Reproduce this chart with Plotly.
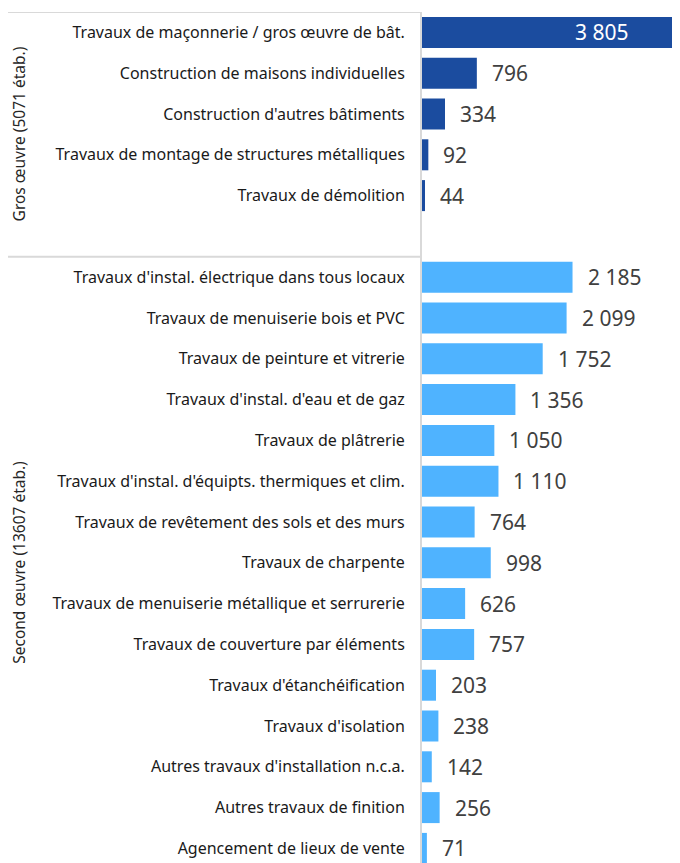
import plotly.graph_objects as go

gros_labels = [
    "Travaux de maçonnerie / gros œuvre de bât.",
    "Construction de maisons individuelles",
    "Construction d'autres bâtiments",
    "Travaux de montage de structures métalliques",
    "Travaux de démolition",
]
gros_values = [3805, 796, 334, 92, 44]

second_labels = [
    "Travaux d'instal. électrique dans tous locaux",
    "Travaux de menuiserie bois et PVC",
    "Travaux de peinture et vitrerie",
    "Travaux d'instal. d'eau et de gaz",
    "Travaux de plâtrerie",
    "Travaux d'instal. d'équipts. thermiques et clim.",
    "Travaux de revêtement des sols et des murs",
    "Travaux de charpente",
    "Travaux de menuiserie métallique et serrurerie",
    "Travaux de couverture par éléments",
    "Travaux d'étanchéification",
    "Travaux d'isolation",
    "Autres travaux d'installation n.c.a.",
    "Autres travaux de finition",
    "Agencement de lieux de vente",
]
second_values = [2185, 2099, 1752, 1356, 1050, 1110, 764, 998, 626, 757, 203, 238, 142, 256, 71]

group_titles = ["Gros œuvre (5071 étab.)", "Second œuvre (13607 étab.)"]

DARK = "#1B4C9F"
LIGHT = "#4FB3FF"
GRID = "#D9D9D9"
FONT = "Noto Sans"

gros_pos = list(range(len(gros_labels)))
gap = 1
second_start = len(gros_labels) + gap
second_pos = [second_start + i for i in range(len(second_labels))]

def fmt(v):
    return f"{v:,}".replace(",", " ")

fig = go.Figure()
fig.add_trace(go.Bar(y=gros_pos, x=gros_values, orientation="h",
                     marker=dict(color=DARK, line=dict(width=0)), width=0.76,
                     hoverinfo="skip", showlegend=False))
fig.add_trace(go.Bar(y=second_pos, x=second_values, orientation="h",
                     marker=dict(color=LIGHT, line=dict(width=0)), width=0.76,
                     hoverinfo="skip", showlegend=False))

XMAX = 3745
annotations = []
all_pos = gros_pos + second_pos
all_vals = gros_values + second_values
for p, v in zip(all_pos, all_vals):
    if v > XMAX:
        annotations.append(dict(x=1, xref="paper", y=p, yref="y", text=fmt(v),
                                showarrow=False, xanchor="right", xshift=-49,
                                font=dict(family=FONT, size=21, color="white")))
    else:
        annotations.append(dict(x=v, xref="x", y=p, yref="y", text=fmt(v),
                                showarrow=False, xanchor="left", xshift=13,
                                font=dict(family=FONT, size=21, color="#404040")))

W = 672
L = 414
PW = W - L
left_paper = (0 - L) / PW
label_x = (11 - L) / PW

top_b = -0.5
mid_b = second_start - 0.5
bot_b = second_pos[-1] + 0.5
for title, yc in zip(group_titles, [(top_b + mid_b) / 2, (mid_b + bot_b) / 2]):
    annotations.append(dict(x=label_x, xref="paper", y=yc, yref="y",
                            text=title, textangle=-90, showarrow=False,
                            xanchor="center", yanchor="middle", borderpad=0,
                            font=dict(family=FONT, size=15.5, color="#262626")))

shapes = []
for b in [top_b, mid_b, bot_b]:
    shapes.append(dict(type="line", xref="paper", yref="y", x0=left_paper, x1=0,
                       y0=b, y1=b, line=dict(color=GRID, width=2), layer="below"))

ROW = 40.8
H = 855
T = 4
rows_visible = (H - T) / ROW
fig.update_layout(
    width=W, height=H,
    margin=dict(l=L, r=0, t=T, b=0),
    plot_bgcolor="white", paper_bgcolor="white",
    barmode="overlay",
    annotations=annotations, shapes=shapes,
    font=dict(family=FONT, size=16, color="#1A1A1A"),
)
fig.update_xaxes(range=[0, XMAX], visible=False, showgrid=False, zeroline=False)
fig.update_yaxes(range=[top_b + rows_visible, top_b],
                 tickvals=gros_pos + second_pos,
                 ticktext=gros_labels + second_labels,
                 showgrid=False, zeroline=False,
                 showline=True, linecolor=GRID, linewidth=2,
                 ticks="", ticklabelstandoff=12,
                 tickfont=dict(family=FONT, size=16, color="#1A1A1A"))

fig.write_html("out.html")
